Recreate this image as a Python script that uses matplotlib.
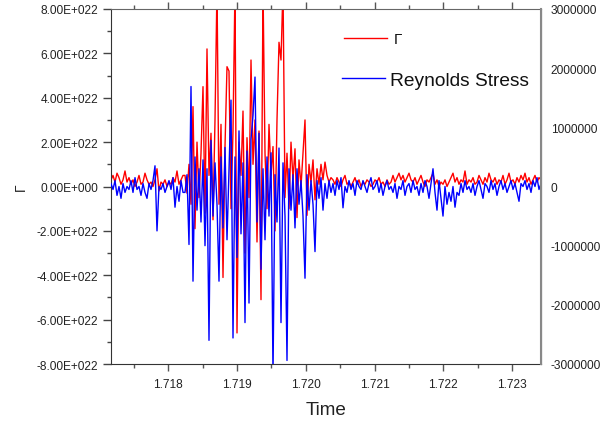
import numpy as np
import matplotlib
matplotlib.use("Agg")
import matplotlib.pyplot as plt
from matplotlib.ticker import MultipleLocator, FuncFormatter

plt.rcParams['font.family'] = ['Liberation Sans', 'DejaVu Sans']

T_START = 1.71717
T_END = 1.72342

# Gamma, in units of 1E+022
gamma = [
    0.3, 0.5, 0.2, 0.6, 0.4, 0.1, 0.3, 0.7, 0.2, 0.4,
    0.1, 0.3, 0.0, 0.2, 0.5, 0.1, 0.2, 0.6, 0.3, 0.1,
    0.2, 0.0, 0.3, 0.8, -0.2, 0.2, 0.1, 0.3, 0.0, 0.2,
    0.1, 0.4, 0.2, 0.7, 0.1, 0.3, 0.5,
    0.5, -0.3, 1.0, -0.8, 3.6, -1.9, 2.0, -0.5, 1.5, 4.5,
    -1.2, 6.2, 0.5, 2.4, -1.5, 3.0, 9.0, -0.8, 2.8, -4.1,
    1.8, 5.4, 5.2, -1.0, 2.5, 9.0, -6.6, 2.0, 0.5, 3.4,
    -3.0, 2.2, -0.5, 5.7, 1.0, 3.0, -2.5, 2.5, -5.1, 9.0,
    1.5, -1.0, 2.8, 0.5, 1.8, -2.0, 3.0, 6.5, 5.7, 9.0,
    -0.5, 1.5, -1.0, 2.0, 0.3, 1.7, -1.4, 1.2, 0.0, 1.5,
    3.0, -1.3, 1.0, 0.2, 1.2, -0.6, 0.8, 0.1, 1.0, 0.3,
    1.1, 0.5, 0.2, 0.4,
    0.3, 0.1, 0.4, 0.2, 0.0, 0.3, 0.5, 0.1, 0.2, 0.0,
    0.2, 0.4, 0.1, 0.3, 0.0, 0.2, 0.1, 0.3, 0.2, 0.0,
    0.1, 0.3, 0.2, 0.4, 0.1, 0.2, 0.0, 0.3, 0.1, 0.2,
    0.5, 0.2, 0.4, 0.6, 0.3, 0.5, 0.2, 0.4, 0.6, 0.3,
    0.2, 0.4, 0.1, 0.3, 0.5, 0.2, 0.0, 0.3, 0.2, 0.4,
    0.6, 0.1, 0.3, 0.0, 0.2, 0.1, 0.3, 0.0, 0.2, 0.4,
    0.6, 0.2, 0.4, 0.1, 0.3, 0.2, 0.7, 0.1, 0.3, 0.2,
    0.4, 0.1, 0.2, 0.5, 0.3, 0.1, 0.4, 0.2, 0.6, 0.3,
    0.2, 0.4, 0.1, 0.3, 0.2, 0.5, 0.1, 0.3, 0.6, 0.2,
    0.3, 0.1, 0.4, 0.2, 0.5, 0.3, 0.6, 0.2, 0.4, 0.1,
    0.3, 0.5, 0.2, 0.4, 0.3,
]

# Reynolds stress, in units of 1e6
reynolds = [
    0.05, -0.05, 0.1, -0.15, 0.0, -0.2, 0.05, -0.1, 0.0, -0.05,
    0.1, -0.1, 0.15, -0.05, 0.0, -0.15, 0.05, -0.1, -0.2, 0.05,
    -0.05, 0.1, 0.35, -0.75, 0.0, -0.05, 0.05, -0.1, 0.0, 0.1,
    -0.05, 0.15, -0.35, 0.0, -0.25, 0.1, -0.1,
    -0.1, 0.2, -0.98, 1.69, -1.6, 0.5, -0.4, 0.3, -0.6, 0.45,
    -1.0, 0.3, -2.6, 0.78, -0.5, 0.4, -0.3, -1.6, 0.5, -0.7,
    0.66, -0.9, 0.3, 1.46, -2.56, 0.5, -1.2, 0.94, -0.8, 0.4,
    -2.3, 0.6, -1.97, 0.8, 1.2, 1.85, -0.6, 0.9, -1.4, 0.3,
    -0.9, 0.5, -0.5, 0.57, -3.2, 0.2, -0.6, 0.65, -2.3, 0.4,
    -0.5, -2.94, 0.3, -0.4, 0.2, -0.7, 0.3, -0.3, 0.1, -0.5,
    -1.55, 0.2, -0.4, 0.1, -0.3, -1.1, 0.1, -0.2, 0.15, -0.4,
    0.05, -0.2, 0.1, -0.1,
    0.05, -0.15, 0.1, -0.05, 0.15, -0.36, 0.0, -0.1, 0.1, -0.05,
    0.05, -0.15, 0.1, 0.0, -0.05, 0.1, 0.0, -0.1, 0.05, 0.15,
    -0.05, 0.0, 0.1, -0.1, 0.05, -0.15, 0.0, 0.1, -0.05, 0.0,
    -0.1, 0.05, -0.2, 0.0, -0.05, 0.1, -0.15, 0.0, 0.05, -0.1,
    0.1, -0.05, 0.0, -0.15, 0.05, -0.1, 0.1, 0.0, -0.2, 0.05,
    0.3, -0.1, -0.4, 0.1, -0.2, -0.5, 0.0, -0.3, -0.1, -0.25,
    0.0, -0.35, -0.1, -0.15, 0.05, -0.1, 0.1, -0.05, 0.0, -0.1,
    0.05, -0.15, 0.0, 0.1, -0.05, -0.2, 0.05, 0.0, -0.1, 0.1,
    -0.05, 0.05, -0.15, 0.0, 0.1, -0.05, 0.05, -0.1, 0.0, 0.1,
    -0.05, 0.05, -0.1, -0.25, 0.05, 0.0, 0.1, -0.05, 0.05, -0.1,
    0.1, 0.0, 0.15, -0.05, 0.05,
]

x_ticks = [1.718, 1.719, 1.720, 1.721, 1.722, 1.723]


def sci_label(v, pos):
    if abs(v) < 1e10:
        return "0.00E+000"
    return "%.2fE+022" % (v / 1e22)


def int_label(v, pos):
    return "%d" % round(v)


def main():
    t = np.linspace(T_START, T_END, len(gamma))
    g = np.array(gamma) * 1e22
    rs = np.array(reynolds) * 1e6

    fig = plt.figure(figsize=(6.0, 4.27), dpi=100)
    ax = fig.add_axes([111 / 600, 62 / 427, 430 / 600, 355 / 427])
    ax2 = ax.twinx()

    ax.plot(t, g, color="#ff0000", lw=1.0, label="Γ")
    ax2.plot(t, rs, color="#0000ff", lw=1.0, label="Reynolds Stress")

    ax.set_xlim(T_START, T_END)
    ax.set_ylim(-8e22, 8e22)
    ax2.set_ylim(-3e6, 3e6)

    ax.set_xticks(x_ticks)
    ax.set_xticklabels(["%.3f" % v for v in x_ticks])
    ax.xaxis.set_minor_locator(MultipleLocator(0.0005))
    ax.yaxis.set_major_locator(MultipleLocator(2e22))
    ax.yaxis.set_minor_locator(MultipleLocator(1e22))
    ax.yaxis.set_major_formatter(FuncFormatter(sci_label))
    ax2.yaxis.set_major_locator(MultipleLocator(1e6))
    ax2.yaxis.set_major_formatter(FuncFormatter(int_label))

    ax.tick_params(axis="x", which="both", direction="out", top=True,
                   colors="#555555", labelcolor="#222222", labelsize=8.6, pad=5)
    ax.tick_params(axis="x", which="major", length=5, width=1)
    ax.tick_params(axis="x", which="minor", length=3, width=1)
    ax.tick_params(axis="y", which="both", direction="out",
                   colors="#444444", labelcolor="#222222", labelsize=8.6, pad=3)
    ax.tick_params(axis="y", which="major", length=6, width=1)
    ax.tick_params(axis="y", which="minor", length=3, width=1)
    ax2.tick_params(axis="y", length=0, labelcolor="#222222", labelsize=8.6, pad=7)

    for sp in ["left", "bottom"]:
        ax.spines[sp].set_color("#333333")
    ax.spines["top"].set_color("#666666")
    ax2.spines["right"].set_color("#888888")
    ax2.spines["right"].set_linewidth(1.5)
    for sp in ax2.spines.values():
        if sp is not ax2.spines["right"]:
            sp.set_visible(False)

    ax.set_xlabel("Time", fontsize=13.6, color="#222222")
    ax.xaxis.set_label_coords(0.5, -0.105)
    ax.set_ylabel("Γ", fontsize=10, color="#222222")
    ax.yaxis.set_label_coords(-0.193, 0.5)

    leg1 = ax.legend(loc="center left", bbox_to_anchor=(344 / 600, 1 - 40 / 427),
                     bbox_transform=fig.transFigure, frameon=False, fontsize=11,
                     handlelength=2.8, handletextpad=0.45, borderpad=0, borderaxespad=0)
    leg2 = ax2.legend(loc="center left", bbox_to_anchor=(342 / 600, 1 - 81 / 427),
                      bbox_transform=fig.transFigure, frameon=False, fontsize=13.8,
                      handlelength=2.24, handletextpad=0.26, borderpad=0, borderaxespad=0)
    for leg in (leg1, leg2):
        for txt in leg.get_texts():
            txt.set_color("#111111")

    fig.savefig("out.png", dpi=100)


if __name__ == "__main__":
    main()
